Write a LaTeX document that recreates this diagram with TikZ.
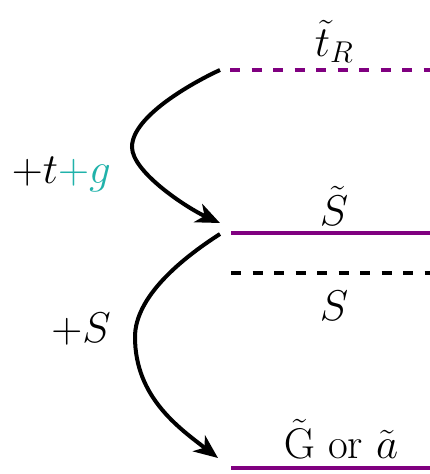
\RequirePackage{fix-cm}
\documentclass[tikz,border=0pt]{standalone}
\usetikzlibrary{arrows.meta}
\definecolor{lvlpurple}{RGB}{128,0,128}
\definecolor{gteal}{RGB}{32,178,170}
\begin{document}
\begin{tikzpicture}[x=1pt,y=-1pt,
  lvl/.style={line width=4pt,draw=lvlpurple},
  lvldash/.style={line width=4pt,dash pattern=on 10pt off 11.5pt},
  flow/.style={line width=4pt,-{Stealth[length=24pt,width=20pt,inset=7pt]}},
  lab/.style={font=\fontsize{43}{48}\selectfont,inner sep=0pt,anchor=base}]
\useasboundingbox (0,0) rectangle (430,474);
% level end points
\coordinate (tRa) at (230,70);   \coordinate (tRb) at (430,70);
\coordinate (Sta) at (231,233);  \coordinate (Stb) at (430,233);
\coordinate (Sa)  at (231,273);  \coordinate (Sb)  at (430,273);
\coordinate (Ga)  at (231,468);  \coordinate (Gb)  at (430,468);
% arrow points
\coordinate (a1s) at (220,70);   \coordinate (a1m) at (132,147);  \coordinate (a1e) at (220,223);
\coordinate (a2s) at (220,234);  \coordinate (a2m) at (135,337);  \coordinate (a2e) at (218,458);
% levels
\draw[lvldash,draw=lvlpurple] (tRa) -- (tRb);
\draw[lvl] (Sta) -- (Stb);
\draw[lvldash,draw=black] (Sa) -- (Sb);
\draw[lvl] (Ga) -- (Gb);
% labels
\node[lab] (ltR) at (334,56) {$\tilde{t}_R$};
\node[lab] (lSt) at (334,225) {$\tilde{S}$};
\node[lab] (lS)  at (334,320) {$S$};
\node[lab] (lG)  at (341,458) {$\tilde{\mathrm{G}}$ or $\tilde{a}$};
\node[lab,anchor=base east] (ltg) at (111,183) {$+t\textcolor{gteal}{+g}$};
\node[lab,anchor=base east] (lpS) at (111,342) {$+S$};
% transitions
\draw[flow] (a1s) .. controls (198,80) and (132,115) .. (a1m)
                  .. controls (132,172) and (187,208) .. (a1e);
\draw[flow] (a2s) .. controls (181,259) and (135,297) .. (a2m)
                  .. controls (135,397) and (179,428) .. (a2e);
\end{tikzpicture}
\end{document}
